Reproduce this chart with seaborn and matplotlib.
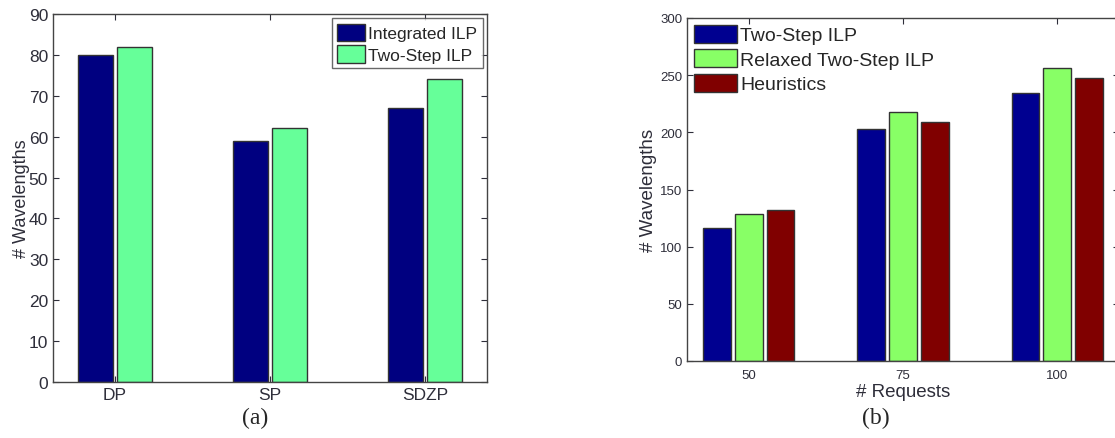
import pandas as pd
import seaborn as sns
import matplotlib.pyplot as plt

# panel (a)
schemes = ["DP", "SP", "SDZP"]
integrated_ilp = [80, 59, 67]
two_step_ilp_a = [82, 62, 74]

# panel (b)
requests = ["50", "75", "100"]
two_step_ilp_b = [116, 203, 234.5]
relaxed_two_step = [128.5, 218, 256.5]
heuristics = [132.5, 209, 247.5]

df_a = pd.DataFrame({
    "scheme": schemes * 2,
    "value": integrated_ilp + two_step_ilp_a,
    "method": ["Integrated ILP"] * 3 + ["Two-Step ILP"] * 3,
})
df_b = pd.DataFrame({
    "req": requests * 3,
    "value": two_step_ilp_b + relaxed_two_step + heuristics,
    "method": ["Two-Step ILP"] * 3 + ["Relaxed Two-Step ILP"] * 3 + ["Heuristics"] * 3,
})

sns.set_style("ticks")
plt.rcParams['font.family'] = ['Liberation Sans', 'DejaVu Sans']
plt.rcParams['xtick.direction'] = 'in'
plt.rcParams['ytick.direction'] = 'in'

W, H = 1115, 439
fig = plt.figure(figsize=(W / 100, H / 100), dpi=100)
ax1 = fig.add_axes([53 / W, (H - 383) / H, 434 / W, 368 / H])
ax2 = fig.add_axes([687 / W, (H - 362) / H, 432 / W, 343 / H])

txt = "#2e2e3a"
edge = "#333333"

sns.barplot(data=df_a, x="scheme", y="value", hue="method", ax=ax1,
            palette=["#000080", "#66FF99"], width=0.5, gap=0.1,
            edgecolor=edge, linewidth=1, saturation=1)
ax1.set_xlim(-0.4, 2.4)
ax1.set_ylim(0, 90)
ax1.set_yticks(range(0, 91, 10))
ax1.set_xlabel("")
ax1.set_ylabel("# Wavelengths", fontsize=13, color=txt, labelpad=-1)
ax1.tick_params(labelsize=12.5, colors=txt, top=True, right=True, length=4, width=0.8)
ax1.legend(loc="upper right", fontsize=12.5, frameon=True, fancybox=False,
           edgecolor="#444444", handlelength=1.6, handleheight=1.2,
           handletextpad=0.2, borderpad=0.3, labelspacing=0.2,
           borderaxespad=0.25).get_frame().set_linewidth(1)

sns.barplot(data=df_b, x="req", y="value", hue="method", ax=ax2,
            palette=["#000090", "#88FF66", "#800000"], width=0.62, gap=0.13,
            edgecolor=edge, linewidth=1, saturation=1)
ax2.set_xlim(-0.4, 2.4)
ax2.set_ylim(0, 300)
ax2.set_yticks(range(0, 301, 50))
ax2.set_xlabel("# Requests", fontsize=13.5, color=txt, labelpad=1)
ax2.set_ylabel("# Wavelengths", fontsize=13.5, color=txt, labelpad=2)
ax2.tick_params(labelsize=9.5, colors=txt, top=True, right=True, length=4, width=0.8)
ax2.tick_params(axis="x", pad=6)
ax2.legend(loc="upper left", fontsize=14, frameon=False,
           handlelength=2.2, handleheight=1.05,
           handletextpad=0.2, borderpad=0.3, labelspacing=0.25,
           borderaxespad=0.05)

for ax in (ax1, ax2):
    for s in ax.spines.values():
        s.set_visible(True)
        s.set_linewidth(1)
        s.set_color("#444444")

fig.text(255 / W, 1 - 418 / H, "(a)", fontsize=17, family="Liberation Serif",
         ha="center", va="center")
fig.text(876 / W, 1 - 418 / H, "(b)", fontsize=17, family="Liberation Serif",
         ha="center", va="center")

fig.savefig("out.png", dpi=100)
